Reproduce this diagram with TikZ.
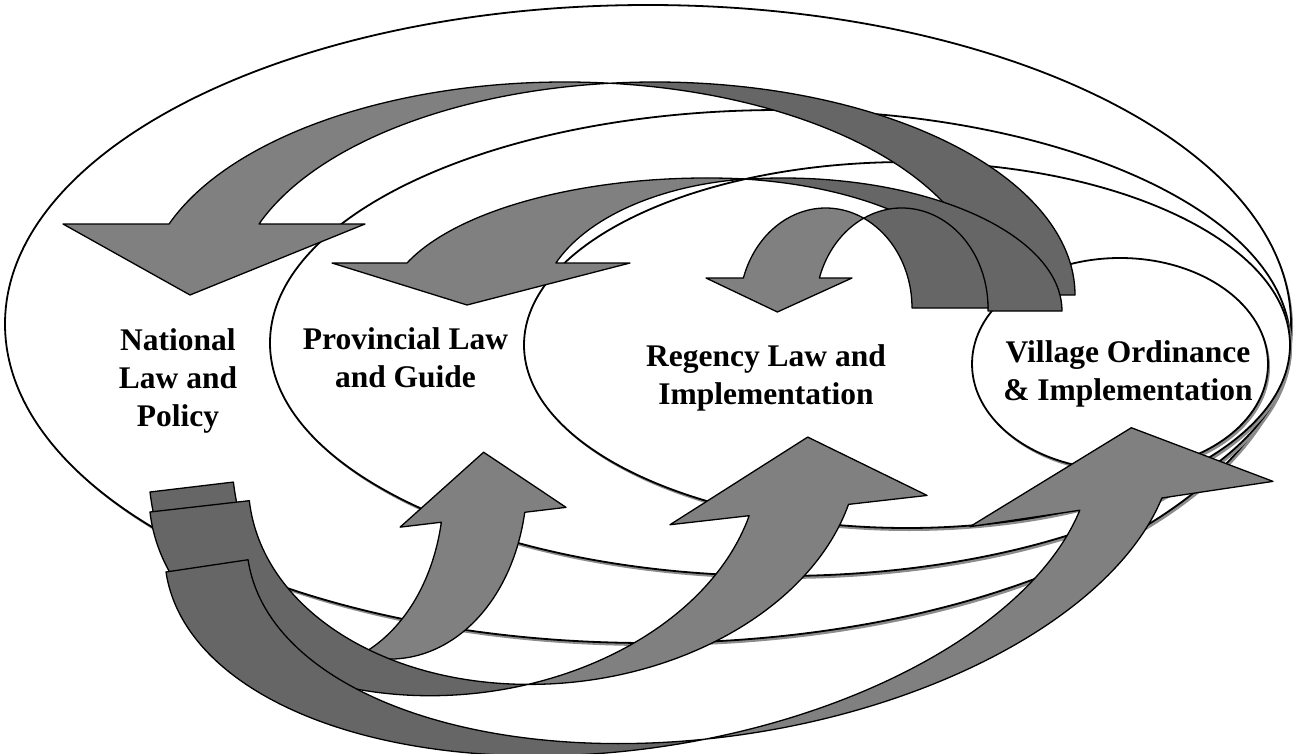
\documentclass[tikz,border=0pt]{standalone}
\usepackage{fontspec}
\setmainfont{Liberation Serif}
\definecolor{lightarrow}{HTML}{808080}
\definecolor{darkarrow}{HTML}{666666}
\definecolor{shadowgray}{HTML}{8C8C8C}
% back (dark) part of a curved-down arrow: #1 cP, #2 s, #3 b, #4 R, #5 h
\newcommand\TopBack[5]{%
 \pgfmathsetmacro\taQ{#1+#2}%
 \pgfmathsetmacro\taAl{acos(#2/(2*#4))}%
 \pgfmathsetmacro\taPR{#1+#4}%
 \pgfmathsetmacro\taQa{180+\taAl}%
 \pgfmathsetmacro\taPa{360-\taAl}%
 \filldraw[dark] (\taQ,#3) ++(\taQa:#4 and #5) arc[start angle=\taQa,end angle=360,x radius=#4,y radius=#5] -- (\taPR,#3) arc[start angle=360,end angle=\taPa,x radius=#4,y radius=#5] -- cycle;
}
% top (curved down) arrow: #1 cP, #2 s, #3 b, #4 R, #5 h, #6 head base y, #7 left barb x, #8 right barb x, #9 tip y
\newcommand\TopArrow[9]{%
 \TopBack{#1}{#2}{#3}{#4}{#5}%
 \pgfmathsetmacro\taTh{180+asin((#3-#6)/#5)}%
 \pgfmathsetmacro\taTip{#1-#4+#2/2}%
 \filldraw[light] (#1,#3) ++(\taTh:#4 and #5) arc[start angle=\taTh,end angle=\taPa,x radius=#4,y radius=#5] arc[start angle=\taQa,end angle=\taTh,x radius=#4,y radius=#5] -- (#8,#6) -- (\taTip,#9) -- (#7,#6) -- cycle;
}
% bottom (curved up) arrow in a rotated frame: #1,#2 origin, #3 rotation, #4 s, #5 R, #6 h, #7 head base v, #8 left barb u, #9 right barb u
\newcommand\BotArrow[9]{%
 \begin{scope}[shift={(#1,#2)},rotate=#3]
 \pgfmathsetmacro\baQ{#5+#4}%
 \pgfmathsetmacro\baAl{acos(#4/(2*#5))}%
 \pgfmathsetmacro\baTh{asin(#7/#6)}%
 \pgfmathsetmacro\baTip{2*#5+#4/2}%
 \pgfmathsetmacro\baQa{180-\baAl}%
 \pgfmathsetmacro\baPx{#5+#5*cos(\baTh)}%
 \filldraw[dark] (0,0) arc[start angle=180,end angle=\baAl,x radius=#5,y radius=#6] arc[start angle=\baQa,end angle=180,x radius=#5,y radius=#6] -- cycle;
 \filldraw[light] (\baQ,0) ++(\baQa:#5 and #6) arc[start angle=\baQa,end angle=\baTh,x radius=#5,y radius=#6] -- (#9,#7) -- (\baTip,0) -- (#8,#7) -- (\baPx,#7) arc[start angle=\baTh,end angle=\baAl,x radius=#5,y radius=#6] -- cycle;
 \end{scope}}
\begin{document}
\begin{tikzpicture}[x=1pt,y=-1pt,
  ell/.style={fill=white,draw=black,line width=1.8pt},
  shade/.style={fill=shadowgray},
  light/.style={fill=lightarrow,draw=black,line width=1.3pt,line join=round},
  dark/.style={fill=darkarrow,draw=black,line width=1.3pt,line join=round},
  lbl/.style={font=\fontsize{31.5}{38}\selectfont\bfseries,align=center,inner sep=0pt}]
\useasboundingbox (0,0) rectangle (1301,754);
% ellipses with drop shadows
\fill[shade] (650,327) ellipse [x radius=643, y radius=319];
\filldraw[ell] (648,324) ellipse [x radius=643, y radius=319];
\fill[shade] (782,346) ellipse [x radius=510, y radius=233];
\filldraw[ell] (780,343) ellipse [x radius=510, y radius=233];
\fill[shade] (909,348) ellipse [x radius=383, y radius=183];
\filldraw[ell] (907,345) ellipse [x radius=383, y radius=183];
\fill[shade] (1122,367) ellipse [x radius=148, y radius=106];
\filldraw[ell] (1120,364) ellipse [x radius=148, y radius=106];
% top arrows (to the left)
\TopArrow{565}{90}{295}{420}{213}{224}{63}{365}{295}
% second arrow: narrow back, wide front
\TopBack{709}{74}{311}{279}{133}
\filldraw[light] (706.8,311) ++(201.16:321.5 and 133) arc[start angle=201.16,end angle=277.0,x radius=321.5,y radius=133] arc[start angle=263.1,end angle=201.16,x radius=234,y radius=133] -- (630,263) -- (467,305) -- (332,263) -- cycle;
\TopArrow{825.7}{76}{308}{86.3}{100}{278}{706}{852}{312}
% bottom arrows (to the right)
\BotArrow{150}{492}{6.8}{84}{147}{195}{64.5}{244.2}{411.3}
\BotArrow{150}{512}{6.5}{100}{306}{217}{71.5}{515.2}{774}
\BotArrow{166}{572}{8.5}{83}{467.3}{246}{74}{801.8}{1108.3}
% labels
\node[lbl] (national) at (178,381) {National\\Law and\\Policy};
\node[lbl] (provincial) at (405.5,358) {Provincial Law\\and Guide};
\node[lbl] (regency) at (766,378) {Regency Law and\\Implementation};
\node[lbl] (village) at (1128,373.5) {Village Ordinance\\\& Implementation};
\end{tikzpicture}
\end{document}
